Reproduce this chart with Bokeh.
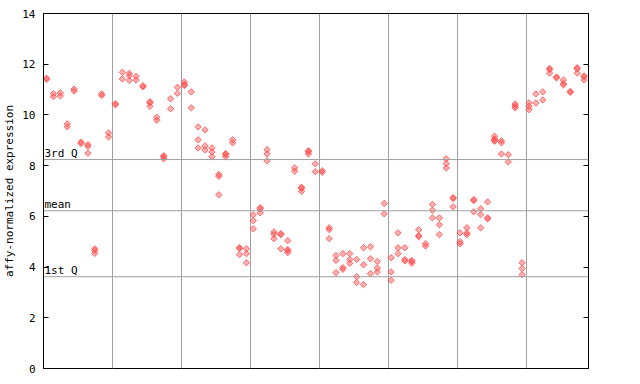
import numpy as np
from bokeh.plotting import figure
from bokeh.models import Range1d, LinearAxis, FixedTicker, Grid, Span, Label
from bokeh.embed import file_html
from bokeh.resources import INLINE

# expression values per sample column (left to right)
values_by_sample = [
    [11.45, 11.40], [10.84, 10.72], [10.87, 10.75], [9.65, 9.53], [11.02, 10.94],
    [8.93, 8.87], [8.83, 8.76, 8.49], [4.72, 4.66, 4.54], [10.83, 10.77], [9.29, 9.13],
    [10.44, 10.40], [11.68, 11.42], [11.64, 11.55, 11.36], [11.52, 11.38], [11.15, 11.11],
    [10.52, 10.48, 10.34], [9.91, 9.79], [8.39, 8.35, 8.27], [10.64, 10.24], [11.09, 10.85],
    [11.30, 11.20, 11.16], [10.91, 10.28], [9.53, 9.02, 8.70], [9.41, 8.78, 8.62], [8.70, 8.54, 8.35],
    [7.65, 7.58, 6.85], [8.48, 8.44, 8.35], [9.02, 8.90], [4.77, 4.73, 4.49], [4.72, 4.53, 4.17],
    [6.06, 5.83, 5.51], [6.34, 6.30, 6.14], [8.63, 8.46, 8.19], [5.39, 5.29, 5.12], [5.32, 5.28, 4.72],
    [5.04, 4.69, 4.65, 4.57], [7.91, 7.78], [7.15, 7.11, 6.99], [8.59, 8.55, 8.46], [8.07, 7.76],
    [7.80, 7.74], [5.55, 5.48, 5.12], [4.46, 4.26, 3.78], [4.53, 3.98, 3.91], [4.53, 4.30, 4.15],
    [4.30, 3.62, 3.39], [4.76, 4.09, 3.31], [4.80, 4.33, 3.74], [4.22, 3.96, 3.81], [6.51, 6.10],
    [4.37, 3.81, 3.48], [5.35, 4.76, 4.53], [4.76, 4.30, 4.24], [4.26, 4.22, 4.15], [5.47, 5.24, 5.20],
    [4.92, 4.83], [6.47, 6.24, 5.94], [5.94, 5.67, 5.28], [8.27, 8.08, 7.91], [6.74, 6.70, 6.38],
    [5.35, 5.00, 4.92], [5.55, 5.35, 5.28], [6.66, 6.62, 6.18], [6.30, 6.07, 5.55], [6.57, 5.94, 5.90],
    [9.16, 9.05, 9.01, 8.96], [8.98, 8.90, 8.46], [8.43, 8.15], [10.43, 10.35, 10.28], [4.17, 3.94, 3.70],
    [10.47, 10.34, 10.21], [10.83, 10.47], [10.91, 10.59], [11.83, 11.79, 11.65], [11.50, 11.46],
    [11.38, 11.23, 11.19], [10.93, 10.89], [11.86, 11.82, 11.65], [11.54, 11.50, 11.38],
]

y_ticks = [0, 2, 4, 6, 8, 10, 12, 14]
group_bounds = [9.6, 19.6, 29.6, 39.6, 49.6, 59.6, 69.6]
quartile_values = [8.24, 6.22, 3.62]
quartile_labels = ["3rd Q", "mean", "1st Q"]

xs, ys = [], []
for i, vals in enumerate(values_by_sample):
    for v in vals:
        xs.append(i)
        ys.append(v)

FONT = "DejaVu Sans Mono"
RED = "#ff5050"
GRAY = "#a0a0a0"

p = figure(width=620, height=377, output_backend="svg", toolbar_location=None,
           x_axis_type=None, y_axis_type=None,
           x_range=Range1d(-0.44, 78.64), y_range=Range1d(0, 14),
           min_border_left=36, min_border_right=32, min_border_top=13, min_border_bottom=9)
p.outline_line_color = "black"
p.outline_line_width = 1
p.background_fill_color = "white"
p.border_fill_color = "white"

yaxis = LinearAxis(ticker=FixedTicker(ticks=y_ticks), axis_label="affy-normalized expression")
yaxis.major_tick_in = 5
yaxis.major_tick_out = 0
yaxis.minor_tick_line_color = None
yaxis.major_label_standoff = 8
yaxis.axis_label_standoff = 3
yaxis.major_label_text_font = FONT
yaxis.major_label_text_font_size = "11px"
yaxis.major_label_text_color = "black"
yaxis.axis_label_text_font = FONT
yaxis.axis_label_text_font_size = "11px"
yaxis.axis_label_text_font_style = "normal"
yaxis.axis_label_text_color = "black"
yaxis.axis_line_color = "black"
yaxis.major_tick_line_color = "black"
p.add_layout(yaxis, "left")

raxis = LinearAxis(ticker=FixedTicker(ticks=y_ticks))
raxis.major_tick_in = 5
raxis.major_tick_out = 0
raxis.minor_tick_line_color = None
raxis.major_label_text_color = None
raxis.major_label_standoff = 0
raxis.axis_line_color = "black"
raxis.major_tick_line_color = "black"
p.add_layout(raxis, "right")

xgrid = Grid(dimension=0, ticker=FixedTicker(ticks=group_bounds),
             grid_line_color=GRAY, grid_line_width=1)
p.add_layout(xgrid)

for qv, ql in zip(quartile_values, quartile_labels):
    p.add_layout(Span(location=qv, dimension="width", line_color=GRAY, line_width=1))
    p.add_layout(Label(x=-0.44, y=qv, text=ql, text_font=FONT, text_font_size="11px",
                       text_color="black", text_baseline="bottom", x_offset=1, y_offset=0))

p.scatter(xs, ys, marker="square", angle=np.pi / 4, size=4.5,
          fill_color=RED, fill_alpha=0.45, line_color=RED, line_alpha=0.8, line_width=1)

open("out.html", "w").write(file_html(p, INLINE))
